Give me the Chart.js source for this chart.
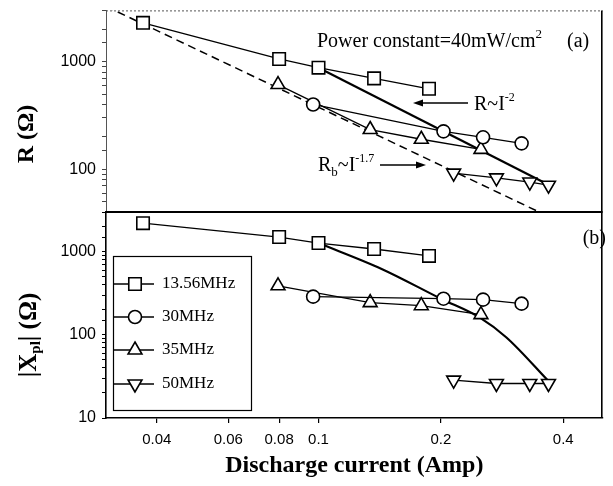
<!DOCTYPE html>
<html><head><meta charset="utf-8">
<script src="https://cdn.jsdelivr.net/npm/chart.js@4.4.1/dist/chart.umd.min.js"></script>
<style>
html,body{margin:0;padding:0;background:#fff;}
#wrap{position:relative;width:613px;height:486px;}
canvas{position:absolute;left:0;top:0;}
</style></head><body>
<div id="wrap"><canvas id="cTop" width="613" height="486"></canvas><canvas id="cBot" width="613" height="486"></canvas></div>
<script>
// ---- data ----
const freqLabels = ['13.56MHz', '30MHz', '35MHz', '50MHz'];
const cur1356 = [0.037, 0.08, 0.1, 0.137, 0.187];
const cur30   = [0.097, 0.203, 0.254, 0.316];
const cur35   = [0.0795, 0.134, 0.179, 0.251];
const cur50   = [0.215, 0.274, 0.331, 0.368];
// panel (a): R
const R1356 = [2300, 1060, 880, 700, 560];
const R30   = [400, 225, 198, 174];
const R35   = [613, 234, 190, 153];
const R50   = [92, 83, 76, 71];
// panel (b): |Xpl|
const X1356 = [2200, 1500, 1270, 1077, 889];
const X30   = [288, 272, 265, 237];
const X35   = [389, 244, 224, 175];
const X50   = [28.5, 26, 26, 26];
// guide lines
const fitRcur = [0.1, 0.37];
const fitR    = [880, 71];
const rbCur   = [0.03, 0.5];
const rbR     = [3270, 21];
const fitXcur = [0.1, 0.143, 0.2, 0.25, 0.29, 0.37];
const fitX    = [1270, 620, 272, 160, 93, 27];
// ticks
const xTickVals   = [0.04, 0.06, 0.08, 0.1, 0.2, 0.4];
const xTickLabels = ['0.04', '0.06', '0.08', '0.1', '0.2', '0.4'];
const yTickLabelsR = ['100', '1000'];
const yTickLabelsX = ['10', '100', '1000'];

// ---- styling ----
const SERIF = '"Liberation Serif", "Times New Roman", serif';
const SANS = '"Liberation Sans", Arial, sans-serif';
const markers = [
  {pointStyle: 'rect', radius: 8.8, rotation: 0},
  {pointStyle: 'circle', radius: 6.5, rotation: 0},
  {pointStyle: 'triangle', radius: 8, rotation: 0},
  {pointStyle: 'triangle', radius: 8, rotation: 180}
];
function pts(xs, ys) { return xs.map((x, i) => ({x: x, y: ys[i]})); }
function series(label, xs, ys, m) {
  return {label: label, data: pts(xs, ys), borderColor: '#000', borderWidth: 1.3,
    backgroundColor: '#fff', pointStyle: m.pointStyle, pointRotation: m.rotation,
    pointRadius: m.radius, pointBorderWidth: 1.6, pointBackgroundColor: '#fff',
    pointBorderColor: '#000', tension: 0, fill: false};
}
function guide(label, xs, ys, extra) {
  return Object.assign({label: label, data: pts(xs, ys), borderColor: '#000', borderWidth: 2.2,
    pointRadius: 0, fill: false, tension: 0}, extra || {});
}
function xScale(show) {
  return {type: 'logarithmic', min: 0.03, max: 0.5, display: show,
    afterBuildTicks: s => { s.ticks = xTickVals.map(v => ({value: v})); },
    afterFit: s => { s.height = show ? 68 : 0; s.paddingLeft = 0; s.paddingRight = 0; },
    ticks: {autoSkip: false, maxRotation: 0, color: '#000', font: {family: SANS, size: 15}, padding: 8,
      callback: (v, i) => xTickLabels[i]},
    grid: {drawOnChartArea: false, drawTicks: true, tickLength: 5, color: '#000', lineWidth: 1.2},
    border: {display: true, color: '#000', width: 1.6},
    title: {display: true, text: 'Discharge current (Amp)', color: '#000',
      font: {family: SERIF, size: 24, weight: 'bold'}, padding: {top: 0, bottom: 6}}
  };
}
function yScale(min, max, labels, dashed) {
  return {type: 'logarithmic', min: min, max: max,
    afterFit: s => { s.width = 106; s.paddingTop = 0; s.paddingBottom = 0; },
    ticks: {autoSkip: false, color: '#000', font: {family: SANS, size: 16}, padding: 6,
      callback: v => { const s = String(Math.round(v)); return labels.includes(s) ? s : ''; }},
    grid: {drawOnChartArea: false, drawTicks: true, tickLength: 4, color: dashed ? '#444' : '#000', lineWidth: 1},
    border: {display: true, color: dashed ? '#555' : '#000', width: dashed ? 1 : 1.6, dash: dashed ? [2, 2] : []}
  };
}
function rich(ctx, segs, x, y, align) {
  let w = 0;
  segs.forEach(s => { ctx.font = s.f; s.w = ctx.measureText(s.t).width; w += s.w; });
  let cx = align === 'center' ? x - w / 2 : (align === 'right' ? x - w : x);
  segs.forEach(s => { ctx.font = s.f; ctx.fillText(s.t, cx, y + (s.dy || 0)); cx += s.w; });
}
function arrow(ctx, x1, y, x2) {
  const dir = Math.sign(x2 - x1);
  ctx.beginPath(); ctx.moveTo(x1, y); ctx.lineTo(x2 - dir * 6, y); ctx.lineWidth = 1.5; ctx.stroke();
  ctx.beginPath(); ctx.moveTo(x2, y); ctx.lineTo(x2 - dir * 10, y - 3.5); ctx.lineTo(x2 - dir * 10, y + 3.5);
  ctx.closePath(); ctx.fill();
}
function drawMarker(ctx, m, x, y) {
  ctx.beginPath();
  const r = m.radius;
  if (m.pointStyle === 'rect') { const s = r * Math.SQRT1_2; ctx.rect(x - s, y - s, 2 * s, 2 * s); }
  else if (m.pointStyle === 'circle') { ctx.arc(x, y, r, 0, Math.PI * 2); }
  else {
    let a = m.rotation * Math.PI / 180;
    for (let k = 0; k < 3; k++) {
      const px = x + Math.sin(a) * r, py = y - Math.cos(a) * r;
      if (k === 0) ctx.moveTo(px, py); else ctx.lineTo(px, py);
      a += 2 * Math.PI / 3;
    }
    ctx.closePath();
  }
  ctx.fillStyle = '#fff'; ctx.fill(); ctx.lineWidth = 1.6; ctx.strokeStyle = '#000'; ctx.stroke();
}

// ---- plugins ----
const topDecor = {id: 'topDecor', afterDraw(chart) {
  const ctx = chart.ctx, a = chart.chartArea;
  ctx.save();
  ctx.strokeStyle = '#555'; ctx.lineWidth = 1; ctx.setLineDash([2, 2]);
  ctx.beginPath(); ctx.moveTo(a.left, a.top + 0.5); ctx.lineTo(a.right, a.top + 0.5); ctx.stroke();
  ctx.setLineDash([]); ctx.strokeStyle = '#000'; ctx.lineWidth = 1.6;
  ctx.beginPath(); ctx.moveTo(a.right - 0.8, a.top); ctx.lineTo(a.right - 0.8, a.bottom); ctx.stroke();
  ctx.fillStyle = '#000'; ctx.strokeStyle = '#000'; ctx.textBaseline = 'alphabetic'; ctx.textAlign = 'left';
  rich(ctx, [{t: 'Power constant=40mW/cm', f: '20px ' + SERIF}, {t: '2', f: '13px ' + SERIF, dy: -9}], 317, 47, 'left');
  rich(ctx, [{t: '(a)', f: '20px ' + SERIF}], 567, 47, 'left');
  rich(ctx, [{t: 'R~I', f: '20px ' + SERIF}, {t: '-2', f: '12px ' + SERIF, dy: -9}], 474, 110, 'left');
  arrow(ctx, 468, 103, 413);
  rich(ctx, [{t: 'R', f: '20px ' + SERIF}, {t: 'b', f: '13px ' + SERIF, dy: 5}, {t: '~I', f: '20px ' + SERIF},
             {t: '-1.7', f: '12px ' + SERIF, dy: -9}], 318, 171, 'left');
  arrow(ctx, 380, 165, 426);
  ctx.translate(27, 134); ctx.rotate(-Math.PI / 2); ctx.textBaseline = 'middle';
  rich(ctx, [{t: 'R (Ω)', f: 'bold 24px ' + SERIF}], 0, 0, 'center');
  ctx.restore();
}};
const botDecor = {id: 'botDecor', afterDraw(chart) {
  const ctx = chart.ctx, a = chart.chartArea;
  ctx.save();
  ctx.strokeStyle = '#000'; ctx.lineWidth = 2;
  ctx.beginPath(); ctx.moveTo(a.left, a.top); ctx.lineTo(a.right, a.top); ctx.stroke();
  ctx.lineWidth = 1.6;
  ctx.beginPath(); ctx.moveTo(a.right - 0.8, a.top); ctx.lineTo(a.right - 0.8, a.bottom); ctx.stroke();
  // legend
  ctx.lineWidth = 1.2; ctx.strokeRect(113.5, 256.5, 138, 154);
  const ly = [284, 317, 350, 384];
  freqLabels.forEach((lab, i) => {
    ctx.strokeStyle = '#000'; ctx.lineWidth = 1.3;
    ctx.beginPath(); ctx.moveTo(114, ly[i]); ctx.lineTo(154, ly[i]); ctx.stroke();
    drawMarker(ctx, markers[i], 135, ly[i]);
    ctx.fillStyle = '#000'; ctx.font = '17px ' + SERIF; ctx.textBaseline = 'middle'; ctx.textAlign = 'left';
    ctx.fillText(lab, 162, ly[i]);
  });
  ctx.textBaseline = 'alphabetic';
  rich(ctx, [{t: '(b)', f: '20px ' + SERIF}], 606, 244, 'right');
  ctx.translate(30, 335); ctx.rotate(-Math.PI / 2); ctx.textBaseline = 'middle';
  rich(ctx, [{t: '|X', f: 'bold 25px ' + SERIF}, {t: 'pl', f: 'bold 15px ' + SERIF, dy: 6},
             {t: '| (Ω)', f: 'bold 25px ' + SERIF}], 0, 0, 'center');
  ctx.restore();
}};

const common = {responsive: false, animation: false, devicePixelRatio: 1, events: [],
  plugins: {legend: {display: false}, tooltip: {enabled: false}}};

new Chart(document.getElementById('cTop'), {
  type: 'line',
  data: {datasets: [
    series(freqLabels[0], cur1356, R1356, markers[0]),
    series(freqLabels[1], cur30, R30, markers[1]),
    series(freqLabels[2], cur35, R35, markers[2]),
    series(freqLabels[3], cur50, R50, markers[3]),
    guide('R~I^-2', fitRcur, fitR),
    guide('Rb~I^-1.7', rbCur, rbR, {borderWidth: 1.5, borderDash: [8, 5]})
  ]},
  options: Object.assign({}, common, {
    layout: {padding: {left: 0, top: 9, right: 2, bottom: 274}},
    scales: {x: xScale(false), y: yScale(40, 3000, yTickLabelsR, true)}
  }),
  plugins: [topDecor]
});

new Chart(document.getElementById('cBot'), {
  type: 'line',
  data: {datasets: [
    series(freqLabels[0], cur1356, X1356, markers[0]),
    series(freqLabels[1], cur30, X30, markers[1]),
    series(freqLabels[2], cur35, X35, markers[2]),
    series(freqLabels[3], cur50, X50, markers[3]),
    guide('fit', fitXcur, fitX, {cubicInterpolationMode: 'monotone'})
  ]},
  options: Object.assign({}, common, {
    layout: {padding: {left: 0, top: 212, right: 2, bottom: 0}},
    scales: {x: xScale(true), y: yScale(10, 3000, yTickLabelsX, false)}
  }),
  plugins: [botDecor]
});
</script>
</body></html>
